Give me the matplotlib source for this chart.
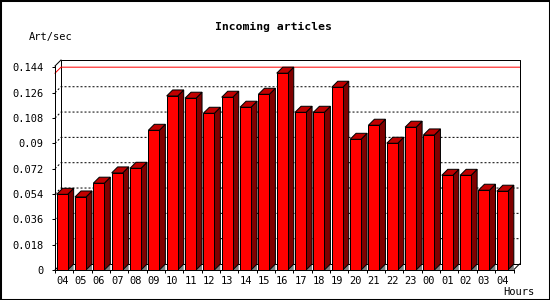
from matplotlib import pyplot as plt
from matplotlib.patches import Polygon, Rectangle
import numpy as np

plt.rcParams['lines.scale_dashes'] = False

hours = ['04', '05', '06', '07', '08', '09', '10', '11', '12', '13', '14', '15', '16',
         '17', '18', '19', '20', '21', '22', '23', '00', '01', '02', '03', '04']
art_per_sec = [0.0538, 0.0519, 0.0617, 0.0690, 0.0723, 0.0993, 0.1237, 0.1221, 0.1114,
               0.1228, 0.1157, 0.1249, 0.1399, 0.1121, 0.1121, 0.1299, 0.0929, 0.1029,
               0.0901, 0.1015, 0.0960, 0.0673, 0.0673, 0.0567, 0.0560]
y_ticks = [0, 0.018, 0.036, 0.054, 0.072, 0.09, 0.108, 0.126, 0.144]
y_labels = ['0', '0.018', '0.036', '0.054', '0.072', '0.09', '0.108', '0.126', '0.144']

FONT = 'DejaVu Sans Mono'
PX = 0.72  # one pixel in points at dpi 100
DEPTH = 6  # 3d depth in pixels

fig = plt.figure(figsize=(5.5, 3), dpi=100)
fig.patch.set_facecolor('white')
ax = fig.add_axes([55 / 550, 30 / 300, 458.5 / 550, 204 / 300])
ax.set_facecolor('white')

x = np.arange(len(hours))
x0, x1 = -0.39, len(hours) - 0.39
top = 0.145
ax.set_xlim(x0, x1)
ax.set_ylim(0, top)

# depth offset in data units
p0 = ax.transData.transform((0, 0))
p1 = ax.transData.transform((1, 1))
dx = DEPTH / (p1[0] - p0[0])
dy = DEPTH / (p1[1] - p0[1])

# back wall and connecting edges
kw = dict(color='black', lw=PX, clip_on=False, zorder=1)
ax.plot([x0 + dx, x0 + dx, x1 + dx, x1 + dx], [dy, top + dy, top + dy, dy], **kw)
ax.plot([x0 + dx, x1 + dx], [dy, dy], **kw)
ax.plot([x0, x0 + dx], [top, top + dy], **kw)
ax.plot([x0, x0 + dx], [0, dy], **kw)
ax.plot([x1, x1 + dx], [0, dy], **kw)

# dotted grid on the back wall
for t in y_ticks[1:-1]:
    ax.plot([x0, x0 + dx, x1 + dx], [t, t + dy, t + dy], color='black', lw=PX,
            linestyle=(0, (1.44, 1.44)), clip_on=False, zorder=1)

# max line
vmax = max(art_per_sec)
ax.plot([x0, x0 + dx, x1 + dx], [vmax, vmax + dy, vmax + dy], color='#ff0000',
        lw=PX, clip_on=False, zorder=1.2)

w = 0.6
ax.bar(x, art_per_sec, width=w, color='#ff0000', edgecolor='black', linewidth=PX,
       zorder=3, clip_on=False)
for xi, v in zip(x, art_per_sec):
    xl, xr = xi - w / 2, xi + w / 2
    ax.add_patch(Polygon([(xr, 0), (xr + dx, dy), (xr + dx, 0)], closed=True,
                         facecolor='#808080', edgecolor='none', zorder=1.5, clip_on=False))
    ax.add_patch(Polygon([(xr, 0), (xr + dx, dy), (xr + dx, v + dy), (xr, v)], closed=True,
                         facecolor='#800000', edgecolor='black', lw=PX, zorder=2, clip_on=False))
    ax.add_patch(Polygon([(xl, v), (xr, v), (xr + dx, v + dy), (xl + dx, v + dy)], closed=True,
                         facecolor='#c00000', edgecolor='black', lw=PX, zorder=2, clip_on=False))

for side in ['top', 'right']:
    ax.spines[side].set_visible(False)
for side in ['left', 'bottom']:
    ax.spines[side].set_linewidth(PX)
    ax.spines[side].set_zorder(4)

ax.set_yticks(y_ticks)
ax.set_yticklabels(y_labels, fontfamily=FONT, fontsize=7.5)
ax.tick_params(axis='y', direction='out', length=2.2, width=PX, pad=6)

ax.set_xticks(np.arange(len(hours) + 1) + x0)
ax.set_xticklabels([])
ax.set_xticks(x, minor=True)
ax.set_xticklabels(hours, minor=True, fontfamily=FONT, fontsize=7.5)
ax.tick_params(axis='x', which='major', direction='out', length=2.5, width=PX)
ax.tick_params(axis='x', which='minor', length=0, pad=4)

fig.text(273.8 / 550, 1 - 27 / 300, 'Incoming articles', ha='center', va='center',
         fontfamily=FONT, fontweight='bold', fontsize=8.2)
fig.text(29 / 550, 1 - 37 / 300, 'Art/sec', ha='left', va='center',
         fontfamily=FONT, fontsize=7.5)
fig.text(503 / 550, 1 - 292 / 300, 'Hours', ha='left', va='center',
         fontfamily=FONT, fontsize=7.5)

fig.add_artist(Rectangle((0, 0), 1, 1, transform=fig.transFigure, fill=False,
                         edgecolor='black', lw=2.2))

fig.savefig('out.png', dpi=100)
